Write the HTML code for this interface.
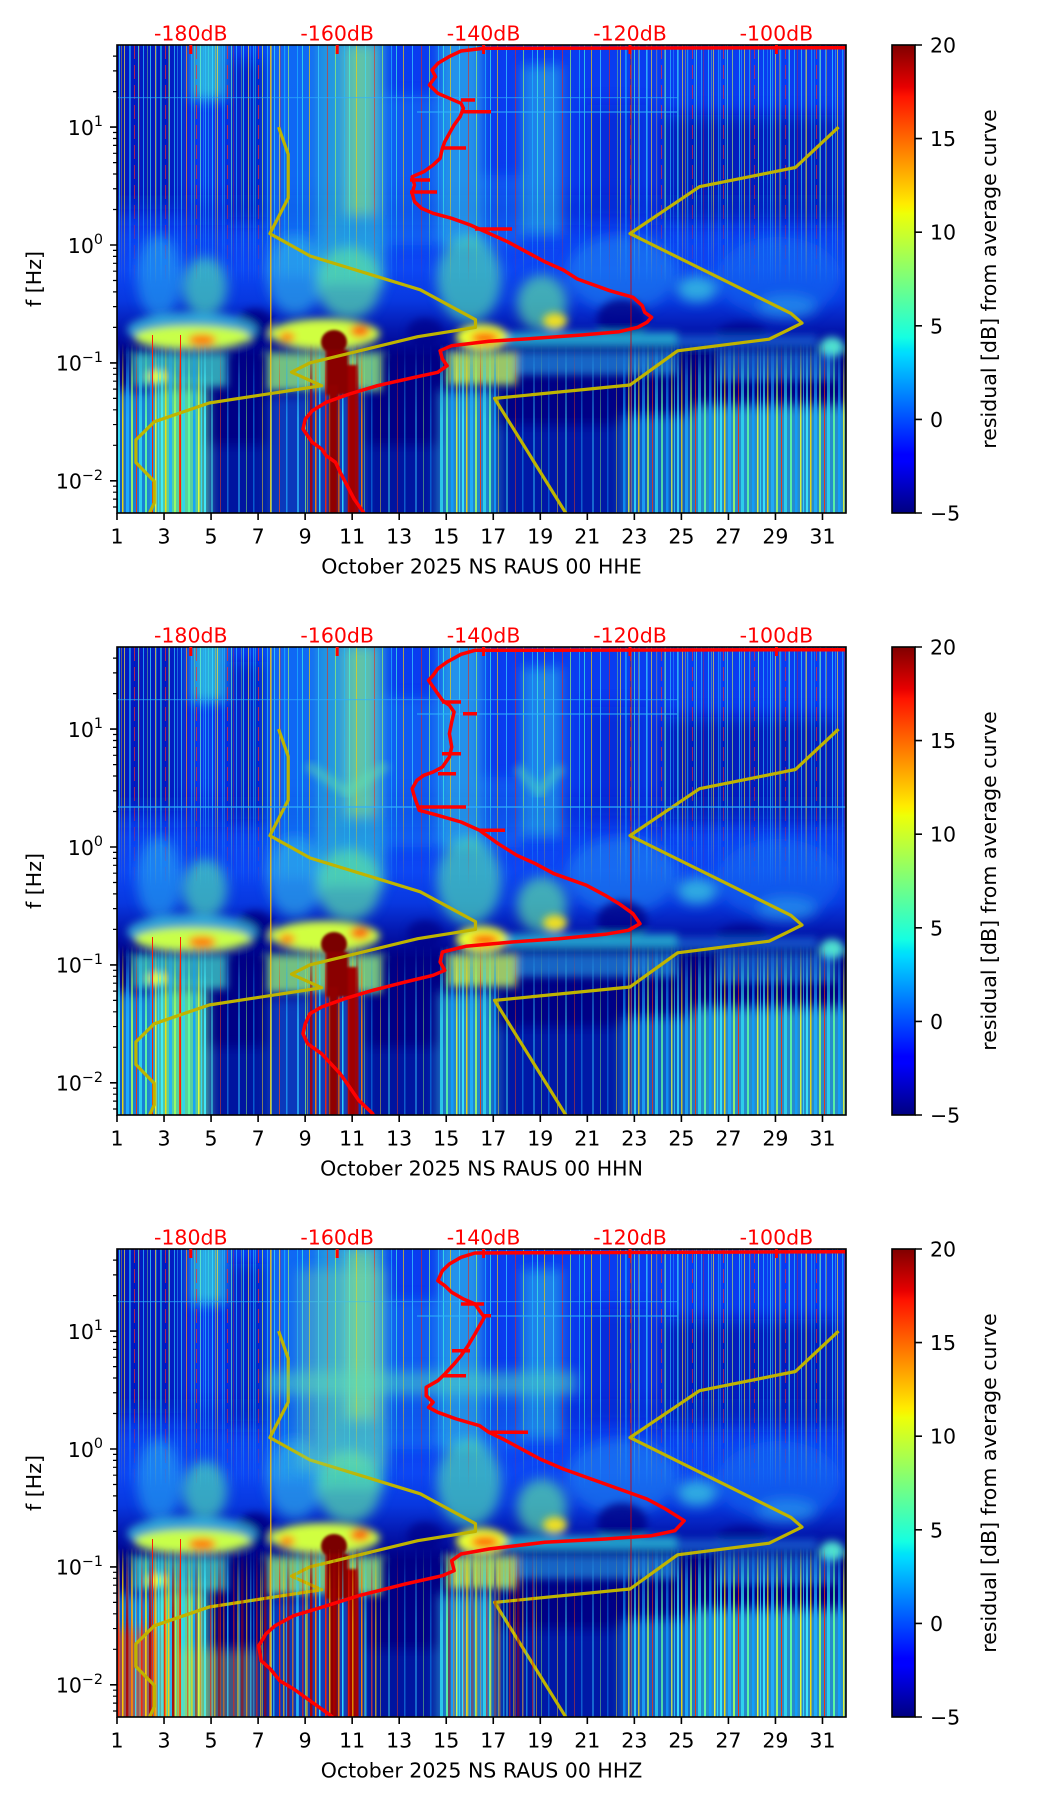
<!DOCTYPE html>
<html><head><meta charset="utf-8"><style>
html,body{margin:0;padding:0;background:#fff;}
svg{display:block;}
text{font-family:"DejaVu Sans","Liberation Sans",sans-serif;}
</style></head><body>
<svg width="1052" height="1806" viewBox="0 0 1052 1806" xmlns="http://www.w3.org/2000/svg">
<defs>
<filter id="b1" x="-50%" y="-50%" width="200%" height="200%"><feGaussianBlur stdDeviation="1.2"/></filter>
<filter id="b4" x="-20%" y="-20%" width="140%" height="140%"><feGaussianBlur stdDeviation="4"/></filter>
<filter id="b6" x="-20%" y="-20%" width="140%" height="140%"><feGaussianBlur stdDeviation="6"/></filter>
<filter id="b8" x="-20%" y="-20%" width="140%" height="140%"><feGaussianBlur stdDeviation="8"/></filter>
<linearGradient id="gUp" gradientUnits="userSpaceOnUse" x1="0" y1="0" x2="0" y2="312">
<stop offset="0" stop-color="#0a3cf0"/>
<stop offset="0.48" stop-color="#0a3aee"/>
<stop offset="0.61" stop-color="#0b42f2"/>
<stop offset="0.72" stop-color="#0c46f4"/>
<stop offset="0.82" stop-color="#0838e0"/>
<stop offset="0.91" stop-color="#0418b0"/>
<stop offset="1" stop-color="#000086"/>
</linearGradient>
<linearGradient id="jet" x1="0" y1="1" x2="0" y2="0">
<stop offset="0" stop-color="#000080"/>
<stop offset=".11" stop-color="#0000ff"/>
<stop offset=".125" stop-color="#0000ff"/>
<stop offset=".34" stop-color="#00dbff"/>
<stop offset=".35" stop-color="#00e5f7"/>
<stop offset=".375" stop-color="#15ffe2"/>
<stop offset=".64" stop-color="#eeff08"/>
<stop offset=".65" stop-color="#f7f600"/>
<stop offset=".66" stop-color="#ffec00"/>
<stop offset=".89" stop-color="#ff1300"/>
<stop offset=".91" stop-color="#e80000"/>
<stop offset="1" stop-color="#800000"/>
</linearGradient>
<linearGradient id="fadeUp" gradientUnits="userSpaceOnUse" x1="0" y1="0" x2="0" y2="240">
<stop offset="0" stop-color="#fff" stop-opacity="1"/>
<stop offset="0.62" stop-color="#fff" stop-opacity="0.9"/>
<stop offset="1" stop-color="#fff" stop-opacity="0"/>
</linearGradient>
<linearGradient id="fadeLow" gradientUnits="userSpaceOnUse" x1="0" y1="298" x2="0" y2="468">
<stop offset="0" stop-color="#fff" stop-opacity="0"/>
<stop offset="0.2" stop-color="#fff" stop-opacity="0.6"/>
<stop offset="0.45" stop-color="#fff" stop-opacity="1"/>
<stop offset="1" stop-color="#fff" stop-opacity="1"/>
</linearGradient>
<mask id="mUp" maskUnits="userSpaceOnUse" x="0" y="0" width="729" height="468"><rect width="729" height="468" fill="url(#fadeUp)"/></mask>
<mask id="mLow" maskUnits="userSpaceOnUse" x="0" y="0" width="729" height="468"><rect width="729" height="468" fill="url(#fadeLow)"/></mask>
<pattern id="hf1" width="31" height="20" patternUnits="userSpaceOnUse">
<rect x="2" width="1" height="20" fill="#40e8ff"/>
<rect x="7" width="1" height="20" fill="#ffe030"/>
<rect x="12" width="1.2" height="20" fill="#20b8ff"/>
<rect x="17" width="1" height="14" fill="#ff3020"/>
<rect x="21" width="1" height="20" fill="#70ffc0"/>
<rect x="26" width="1" height="20" fill="#30c8ff"/>
</pattern>
<pattern id="hf2" width="47" height="20" patternUnits="userSpaceOnUse">
<rect x="4" width="1" height="20" fill="#ffd000"/>
<rect x="13" width="1" height="20" fill="#40e0ff"/>
<rect x="22" width="0.8" height="20" fill="#ff2000"/>
<rect x="30" width="1" height="20" fill="#a0ff60"/>
<rect x="39" width="1" height="20" fill="#20c0ff"/>
<rect x="44" width="1" height="20" fill="#40ffe0"/>
</pattern>
<pattern id="st1" width="43" height="468" patternUnits="userSpaceOnUse">
<rect x="1" width="2" height="468" fill="#40f0ff"/>
<rect x="5" width="1.5" height="468" fill="#ffe000"/>
<rect x="9" width="3" height="468" fill="#20b0ff"/>
<rect x="14" width="2" height="468" fill="#a0ff60"/>
<rect x="19" width="1" height="468" fill="#ff3000"/>
<rect x="22" width="3" height="468" fill="#30d8f0"/>
<rect x="28" width="2" height="468" fill="#60ffa0"/>
<rect x="33" width="2.5" height="468" fill="#10a0ff"/>
<rect x="38" width="1.5" height="468" fill="#f0ff30"/>
<rect x="41" width="1" height="468" fill="#30e0ff"/>
</pattern>
<pattern id="st2" width="59" height="468" patternUnits="userSpaceOnUse">
<rect x="3" width="2" height="468" fill="#30c8ff"/>
<rect x="11" width="1" height="468" fill="#90ff70"/>
<rect x="18" width="1.5" height="468" fill="#10a0ff"/>
<rect x="27" width="1" height="468" fill="#ffe020"/>
<rect x="35" width="2" height="468" fill="#40e8f0"/>
<rect x="44" width="1" height="468" fill="#ff4010"/>
<rect x="51" width="1.5" height="468" fill="#20b0ff"/>
</pattern>
<pattern id="st3" width="23" height="468" patternUnits="userSpaceOnUse">
<rect x="1" width="1.5" height="468" fill="#ff2000"/>
<rect x="5" width="1.5" height="468" fill="#ffd000"/>
<rect x="9" width="2.5" height="468" fill="#b00000"/>
<rect x="14" width="1.5" height="468" fill="#ff8000"/>
<rect x="18" width="1.5" height="468" fill="#30e0ff"/>
</pattern>

<g id="base">
<rect width="729" height="468" fill="#000086"/>
<rect width="729" height="312" fill="url(#gUp)"/>
<g filter="url(#b8)">
 <rect x="-10" y="-10" width="78" height="175" fill="#0612b0" opacity=".75"/>
 <rect x="110" y="15" width="42" height="160" fill="#0614b0" opacity=".6"/>
 <rect x="545" y="70" width="180" height="105" fill="#0612a8" opacity=".7"/>
 <rect x="470" y="60" width="60" height="110" fill="#081cc0" opacity=".4"/>
 <rect x="-10" y="150" width="749" height="30" fill="#0820c8" opacity=".35"/>
</g>
<g filter="url(#b6)">
 <rect x="74" y="-10" width="34" height="65" fill="#38d8d8" opacity=".7"/>
 <rect x="150" y="-10" width="50" height="240" fill="#1a8cf8" opacity=".55"/>
 <rect x="200" y="-10" width="68" height="250" fill="#30c8d8" opacity=".65"/>
 <rect x="228" y="0" width="30" height="170" fill="#a0f070" opacity=".5"/>
 <rect x="262" y="50" width="60" height="150" fill="#1a7cf8" opacity=".5"/>
 <rect x="322" y="-10" width="43" height="210" fill="#30c0e8" opacity=".65"/>
 <rect x="405" y="20" width="40" height="170" fill="#30c0e8" opacity=".55"/>
 <rect x="365" y="130" width="40" height="70" fill="#1a80f8" opacity=".4"/>
 <ellipse cx="42" cy="232" rx="22" ry="42" fill="#28a8f0" opacity=".6"/>
 <ellipse cx="88" cy="242" rx="22" ry="30" fill="#50e0b0" opacity=".65"/>
 <ellipse cx="178" cy="230" rx="28" ry="40" fill="#30b8e8" opacity=".6"/>
 <ellipse cx="232" cy="238" rx="32" ry="36" fill="#60e8a0" opacity=".65"/>
 <ellipse cx="352" cy="234" rx="32" ry="44" fill="#50e0b0" opacity=".65"/>
 <ellipse cx="425" cy="258" rx="25" ry="28" fill="#60e8a0" opacity=".65"/>
 <ellipse cx="505" cy="228" rx="55" ry="38" fill="#2090f0" opacity=".5"/>
 <ellipse cx="580" cy="244" rx="20" ry="13" fill="#40d8e0" opacity=".7"/>
 <ellipse cx="662" cy="232" rx="62" ry="40" fill="#1a70f0" opacity=".5"/>
 <ellipse cx="670" cy="262" rx="30" ry="12" fill="#30b0f0" opacity=".5"/>
</g>
<g mask="url(#mUp)">
 <rect x="0" y="0" width="170" height="240" fill="url(#hf1)" opacity=".7"/>
 <rect x="170" y="0" width="330" height="240" fill="url(#hf2)" opacity=".45"/>
 <rect x="500" y="0" width="229" height="240" fill="url(#hf1)" opacity=".65"/>
 <rect x="0" y="0" width="729" height="240" fill="url(#hf2)" opacity=".4"/>
 <rect x="0" y="52" width="560" height="1.2" fill="#30b0ff" opacity=".6"/>
 <rect x="300" y="66" width="260" height="2" fill="#30b8ff" opacity=".5"/>
</g>
<g filter="url(#b4)">
 <ellipse cx="138" cy="282" rx="20" ry="18" fill="#000086" opacity=".9"/>
 <ellipse cx="308" cy="287" rx="18" ry="14" fill="#000086" opacity=".7"/>
 <ellipse cx="505" cy="274" rx="25" ry="20" fill="#000086" opacity=".8"/>
 <ellipse cx="625" cy="289" rx="25" ry="12" fill="#000086" opacity=".6"/>
 <rect x="-10" y="302" width="749" height="7" fill="#000086" opacity=".55"/>
 <ellipse cx="75" cy="285" rx="65" ry="18" fill="#40d0e0" opacity=".7"/>
 <ellipse cx="75" cy="292" rx="58" ry="12" fill="#c8ff48"/>
 <ellipse cx="85" cy="295" rx="14" ry="6" fill="#ff7a00"/>
 <ellipse cx="208" cy="289" rx="55" ry="15" fill="#d0ff40"/>
 <ellipse cx="170" cy="292" rx="8" ry="5" fill="#ff8000"/>
 <ellipse cx="243" cy="286" rx="10" ry="6" fill="#ff6000"/>
 <ellipse cx="365" cy="292" rx="26" ry="13" fill="#e8ff30"/>
 <ellipse cx="368" cy="293" rx="14" ry="6" fill="#ff6a00"/>
 <ellipse cx="438" cy="276" rx="12" ry="8" fill="#f0e020"/>
 <rect x="390" y="287" width="170" height="14" fill="#30d8e0" opacity=".7"/>
 <rect x="560" y="290" width="140" height="12" fill="#2090f0" opacity=".5"/>
 <ellipse cx="715" cy="302" rx="12" ry="10" fill="#50e0d0"/>
 <rect x="15" y="309" width="95" height="33" fill="#40d8c8" opacity=".75"/>
 <ellipse cx="40" cy="332" rx="10" ry="6" fill="#e0ff40"/>
 <rect x="150" y="309" width="115" height="37" fill="#90f080" opacity=".8"/>
 <rect x="330" y="308" width="70" height="32" fill="#c0f860" opacity=".8"/>
 <rect x="400" y="308" width="160" height="22" fill="#2aa8f0" opacity=".6"/>
 <rect x="600" y="308" width="120" height="28" fill="#2090f0" opacity=".5"/>
</g>
<g filter="url(#b6)">
 <rect x="0" y="345" width="42" height="140" fill="#20a8f0" opacity=".75"/>
 <rect x="40" y="340" width="50" height="145" fill="#60e8a0" opacity=".9"/>
 <rect x="150" y="350" width="40" height="135" fill="#1070f0" opacity=".5"/>
 <rect x="190" y="345" width="57" height="140" fill="#2070e8" opacity=".55"/>
 <rect x="322" y="345" width="57" height="140" fill="#30c0f0" opacity=".7"/>
 <rect x="380" y="380" width="125" height="105" fill="#0838d0" opacity=".45"/>
 <rect x="505" y="370" width="70" height="115" fill="#20a0f0" opacity=".6"/>
 <rect x="575" y="360" width="164" height="125" fill="#38c8e8" opacity=".7"/>
 <rect x="90" y="400" width="60" height="85" fill="#0838d0" opacity=".35"/>
 <rect x="247" y="400" width="75" height="85" fill="#0838d0" opacity=".35"/>
</g>
<g mask="url(#mLow)">
 <rect x="0" y="290" width="40" height="178" fill="url(#st1)" opacity=".9"/>
 <rect x="40" y="290" width="50" height="178" fill="url(#st1)" opacity=".9"/>
 <rect x="90" y="290" width="60" height="178" fill="url(#st2)" opacity=".5"/>
 <rect x="150" y="290" width="40" height="178" fill="url(#st2)" opacity=".7"/>
 <rect x="190" y="290" width="57" height="178" fill="url(#st3)" opacity=".9"/>
 <rect x="247" y="290" width="75" height="178" fill="url(#st2)" opacity=".45"/>
 <rect x="322" y="290" width="57" height="178" fill="url(#st1)" opacity=".85"/>
 <rect x="379" y="290" width="126" height="178" fill="url(#st2)" opacity=".45"/>
 <rect x="505" y="290" width="70" height="178" fill="url(#st1)" opacity=".75"/>
 <rect x="575" y="290" width="154" height="178" fill="url(#st1)" opacity=".85"/>
</g>
<rect x="153" y="0" width="1.5" height="468" fill="#ffc000" opacity=".8"/>
<rect x="35" y="290" width="1" height="178" fill="#ff2000"/>
<rect x="63" y="290" width="1" height="178" fill="#ff2000"/>
<g filter="url(#b1)">
 <ellipse cx="217" cy="297" rx="13" ry="12" fill="#7a0000"/>
 <rect x="209" y="305" width="22" height="45" fill="#8a0000"/>
 <rect x="212" y="340" width="9" height="130" fill="#900000"/>
 <rect x="231" y="320" width="9" height="150" fill="#a00000"/>
</g>
<rect x="513.5" y="0" width="1" height="468" fill="#d00000" opacity=".8"/>
<g fill="none" stroke="#bfb400" stroke-width="3.2" stroke-linejoin="round">
<polyline points="161.6,82.1 171.2,109.3 171.2,153.1 152.9,188.6 193.1,211 303.3,244.8 358.5,274.7 358.5,282.4 300.7,291.7 192.8,317.9 174.5,327.2 204.6,340.7 92.1,358 37.2,376.8 18.9,394.9 18.9,417.5 37.2,436.3 37.2,457.9 31,471.3"/>
<polyline points="721.6,82.1 678.4,122.5 582.5,141.7 513,188.6 674,268.4 685,278.1 652.1,294.2 560.6,305.8 513,340 377.6,353.4 450.8,471.3"/>
</g>
</g>

<g id="ax">
<rect x="117" y="45" width="729" height="468" fill="none" stroke="#000" stroke-width="1.6"/>
<g fill="#ff0000">
<rect x="189.3" y="45" width="3" height="9"/>
<rect x="335.7" y="45" width="3" height="9"/>
<rect x="482.1" y="45" width="3" height="9"/>
<rect x="628.5" y="45" width="3" height="9"/>
<rect x="774.9" y="45" width="3" height="9"/>
</g>
<g font-size="20.5" fill="#ff0000" text-anchor="middle">
<text x="190.8" y="40.5">-180dB</text>
<text x="337.2" y="40.5">-160dB</text>
<text x="483.6" y="40.5">-140dB</text>
<text x="630" y="40.5">-120dB</text>
<text x="776.4" y="40.5">-100dB</text>
</g>
<path d="M117 513v7M164.03 513v7M211.06 513v7M258.1 513v7M305.13 513v7M352.16 513v7M399.19 513v7M446.23 513v7M493.26 513v7M540.29 513v7M587.32 513v7M634.35 513v7M681.39 513v7M728.42 513v7M775.45 513v7M822.48 513v7" stroke="#000" stroke-width="1.6"/>
<g font-size="20.5" fill="#000" text-anchor="middle">
<text x="117" y="543.5">1</text>
<text x="164.03" y="543.5">3</text>
<text x="211.06" y="543.5">5</text>
<text x="258.1" y="543.5">7</text>
<text x="305.13" y="543.5">9</text>
<text x="352.16" y="543.5">11</text>
<text x="399.19" y="543.5">13</text>
<text x="446.23" y="543.5">15</text>
<text x="493.26" y="543.5">17</text>
<text x="540.29" y="543.5">19</text>
<text x="587.32" y="543.5">21</text>
<text x="634.35" y="543.5">23</text>
<text x="681.39" y="543.5">25</text>
<text x="728.42" y="543.5">27</text>
<text x="775.45" y="543.5">29</text>
<text x="822.48" y="543.5">31</text>
</g>
<path d="M110 127.1h7M110 245h7M110 362.9h7M110 480.8h7" stroke="#000" stroke-width="1.6"/>
<path d="M113 91.6h4M113 70.85h4M113 56.1h4M113 209.5h4M113 188.75h4M113 174h4M113 162.6h4M113 153.3h4M113 145.4h4M113 138.5h4M113 132.5h4M113 327.4h4M113 306.65h4M113 291.9h4M113 280.5h4M113 271.2h4M113 263.3h4M113 256.4h4M113 250.4h4M113 445.3h4M113 424.55h4M113 409.8h4M113 398.4h4M113 389.1h4M113 381.2h4M113 374.3h4M113 368.3h4M113 507h4M113 499.1h4M113 492.2h4M113 486.2h4" stroke="#000" stroke-width="1.2"/>
<g font-size="20.5" fill="#000" text-anchor="end">
<text x="103" y="134.9">10<tspan dy="-8.8" font-size="14.3">1</tspan></text>
<text x="103" y="252.8">10<tspan dy="-8.8" font-size="14.3">0</tspan></text>
<text x="103" y="370.7">10<tspan dy="-8.8" font-size="14.3">−1</tspan></text>
<text x="103" y="488.6">10<tspan dy="-8.8" font-size="14.3">−2</tspan></text>
</g>
<text x="41" y="279" transform="rotate(-90 41 279)" text-anchor="middle" font-size="20.5" fill="#000">f [Hz]</text>
<rect x="892" y="45" width="23" height="468" fill="url(#jet)" stroke="#000" stroke-width="1.6"/>
<path d="M915 45h7M915 138.6h7M915 232.2h7M915 325.8h7M915 419.4h7M915 513h7" stroke="#000" stroke-width="1.6"/>
<g font-size="20.5" fill="#000">
<text x="930" y="52.5">20</text>
<text x="930" y="146.1">15</text>
<text x="930" y="239.7">10</text>
<text x="930" y="333.3">5</text>
<text x="930" y="426.9">0</text>
<text x="930" y="520.5">−5</text>
</g>
<text x="996" y="279" transform="rotate(-90 996 279)" text-anchor="middle" font-size="20.5" fill="#000">residual [dB] from average curve</text>
</g>
</defs>

<!-- Panel 1 -->
<svg x="117" y="45" width="729" height="468" viewBox="0 0 729 468" overflow="hidden">
<use href="#base"/>
<polyline fill="none" stroke="#ff0000" stroke-width="3.5" stroke-linejoin="round" points="729,2.7 367,3.3 344,6 332,11.7 321,18.3 315,25 318.5,31.7 312.4,40 320.8,48.3 332.4,53.3 344,58.3 346.4,63.3 343.1,71.7 337.1,80 332.4,88.3 327.8,96.7 325.4,103.3 323.1,113.3 316.1,120 306.8,126.7 295.2,131.7 297.5,140 295.2,148.3 297.5,156.7 304.5,163.3 316.1,168.3 334.7,173.3 353.3,180 371.9,188.3 390.5,196.7 409.1,206.7 427.7,216.7 446.3,225 460.3,234 474.2,239 492.8,245.7 516,252.3 525.3,260.7 527.7,267.3 534.6,272.3 530,277.3 520.7,282.3 502.1,286.7 464.9,290 418.4,293.3 371.9,296.3 334.7,300.7 323.1,305.7 325.4,314 330.1,320.7 320.8,327.3 297.5,332.3 260.3,340.7 232.5,349 209.2,357.3 195.3,365.7 188.3,374 186,384 190.6,390.7 195.3,397.3 204.6,404 209.2,410.7 218.5,417.3 223.2,427.3 230.1,440.7 237.1,454 246.4,467.3 250,472"/>
<path d="M344 55H358M346 66.7H374M325 103H349M293 135H313M293 147H320M358 184H395" stroke="#ff0000" stroke-width="3.5"/>
</svg>

<!-- Panel 2 -->
<svg x="117" y="647" width="729" height="468" viewBox="0 0 729 468" overflow="hidden">
<use href="#base"/>
<g filter="url(#b4)">
<path d="M190,118 L230,145 L270,118" stroke="#60e0b0" stroke-width="10" fill="none" opacity=".5"/>
<path d="M400,120 L422,145 L445,120" stroke="#50d8c0" stroke-width="10" fill="none" opacity=".5"/>
</g>
<rect x="0" y="159" width="729" height="2" fill="#30b0ff" opacity=".6"/>
<polyline fill="none" stroke="#ff0000" stroke-width="3.5" stroke-linejoin="round" points="729,2.7 358,3.3 344,7.3 330,15 320.8,21.7 316.1,28.3 311.5,33.3 316.1,40 320.8,46.7 325.4,53.3 332.4,58.3 337.1,65 334.7,75 332.4,86.7 334.7,100 332.4,110 325.4,120 316.1,125 306.8,128.3 299.9,133.3 295.2,141.7 297.5,150 299.9,156.7 302.2,163.3 320.8,168.3 344,175 362.6,183.3 381.2,196.7 399.8,208.3 418.4,216.7 437,226.7 451,231.7 469.5,238.3 488.1,248.3 502.1,256.7 516,266.7 523,276.7 511.4,283.3 488.1,287.3 441.7,291.7 395.2,295 348.7,299.3 325.4,305 323.1,315 327.8,323.3 316.1,328.3 288.2,335 255.7,343.3 227.8,351.7 204.6,360 192.9,366.7 188.3,376.7 186,386.7 190.6,396.7 204.6,406.7 213.9,416.7 223.2,426.7 232.5,440 241.7,453.3 255.7,466.7 258,472"/>
<path d="M325 55H344M346 66.7H360M325 106.7H344M321 126.7H339M302 160H349M362.6 183.3H388" stroke="#ff0000" stroke-width="3.5"/>
</svg>

<!-- Panel 3 -->
<svg x="117" y="1249" width="729" height="468" viewBox="0 0 729 468" overflow="hidden">
<use href="#base"/>
<g filter="url(#b6)">
<rect x="150" y="122" width="310" height="24" fill="#50d8c0" opacity=".5"/>
<rect x="180" y="20" width="90" height="200" fill="#80e8a0" opacity=".3"/>
<rect x="-10" y="380" width="50" height="100" fill="#ff4000" opacity=".55"/>
<rect x="60" y="400" width="80" height="80" fill="#d0f040" opacity=".3"/>
</g>
<g mask="url(#mLow)">
<rect x="0" y="300" width="60" height="168" fill="url(#st3)" opacity=".9"/>
<rect x="60" y="300" width="80" height="168" fill="url(#st3)" opacity=".55"/>
<rect x="140" y="300" width="120" height="168" fill="url(#st3)" opacity=".65"/>
<rect x="330" y="300" width="90" height="168" fill="url(#st3)" opacity=".5"/>
<rect x="560" y="300" width="169" height="168" fill="url(#st1)" opacity=".5"/>
</g>
<g fill="none" stroke="#bfb400" stroke-width="3.2" stroke-linejoin="round">
<polyline points="92.1,358 37.2,376.8 18.9,394.9 18.9,417.5 37.2,436.3 37.2,457.9 31,471.3"/>
</g>
<polyline fill="none" stroke="#ff0000" stroke-width="3.5" stroke-linejoin="round" points="729,2.7 358,4 344,8.3 332.4,15 325.4,21.7 320.8,31.7 327.8,36.7 334.7,43.3 346.4,50 358,55 362.6,61.7 367.3,68.3 362.6,76.7 358,85 351,96.7 344,106.7 337.1,115 327.8,125 320.8,131.7 309.2,138.3 309.2,146.7 316.1,153.3 311.5,158.3 320.8,163.3 339.4,170 362.6,176.7 371.9,183.3 385.9,190 404.5,200 423.1,210 446.3,220 474.2,230 502.1,240 530,250 548.6,260 567.2,271.7 557.9,281.7 534.6,286.7 488.1,290 427.7,293.3 371.9,300 344,305 334.7,311.7 337.1,321.7 325.4,326.7 288.2,335 241.7,346.7 204.6,358.3 176.7,366.7 158.1,376.7 148.8,385 141.8,396.7 144.1,411.7 153.4,420 162.7,431.7 176.7,440 190.6,450 213.9,466.7 220,472"/>
<path d="M344 55H367M367 66.7H374M335 101.7H353M325 126.7H349M372 183.3H411" stroke="#ff0000" stroke-width="3.5"/>
</svg>

<use href="#ax"/>
<use href="#ax" y="602"/>
<use href="#ax" y="1204"/>

<g font-size="20.5" fill="#000" text-anchor="middle">
<text x="481.5" y="573.5">October 2025 NS RAUS 00 HHE</text>
<text x="481.5" y="1175.5">October 2025 NS RAUS 00 HHN</text>
<text x="481.5" y="1777.5">October 2025 NS RAUS 00 HHZ</text>
</g>
</svg>
</body></html>
